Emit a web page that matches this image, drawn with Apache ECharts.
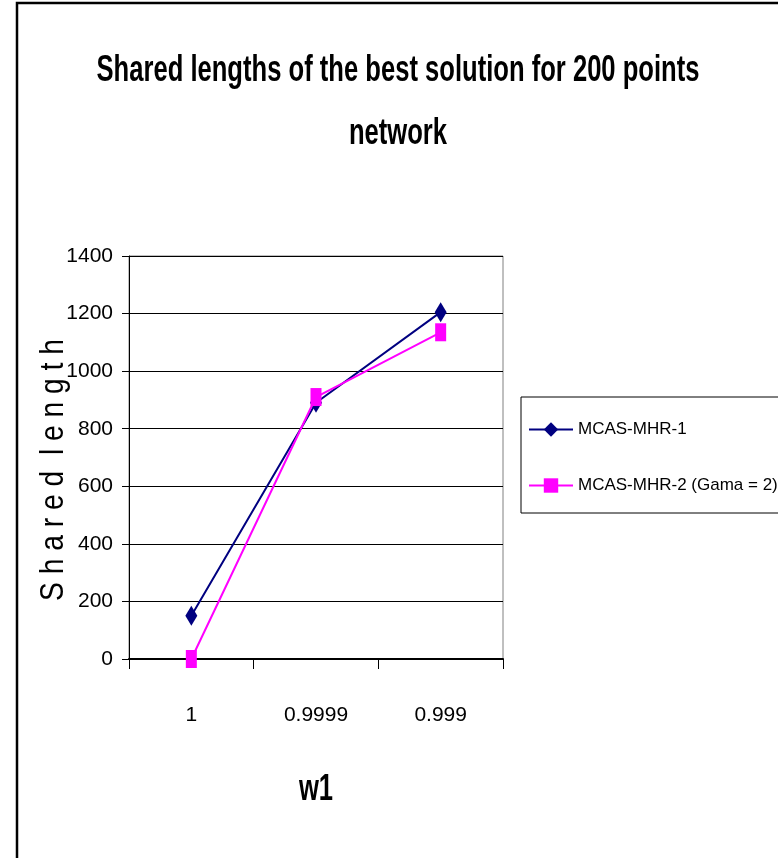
<!DOCTYPE html>
<html><head><meta charset="utf-8">
<script src="https://cdn.jsdelivr.net/npm/echarts@6/dist/echarts.min.js"></script>
<style>html,body{margin:0;padding:0;background:#fff}#c{width:778px;height:858px}</style>
</head><body><div id="c"></div>
<script>
const categories = ['1', '0.9999', '0.999'];
const mhr1 = [150, 890, 1205];
const mhr2 = [0, 910, 1135];
const seriesNames = ['MCAS-MHR-1', 'MCAS-MHR-2 (Gama = 2)'];
const titleLines = ['Shared lengths of the best solution for 200 points', 'network'];
const yName = 'S h a r e d  l e n g t h';
const xName = 'w1';
const FAM = "'Liberation Sans', Arial, sans-serif";

// horizontal squeeze factor of the reference's condensed lettering
const mctx = document.createElement('canvas').getContext('2d');
function measure(text, size, weight) {
  mctx.font = (weight || 'normal') + ' ' + size + 'px ' + FAM;
  return mctx.measureText(text).width;
}
const titleSize = 37;
const squeeze = 603 / measure(titleLines[0], titleSize, 'bold');
const ySize = 33;
const ySqueeze = 262 / measure(yName, ySize, 'normal');

function sText(text, x, y, size, weight, sx, rot) {
  return {
    type: 'text', x: x, y: y, rotation: rot || 0, scaleX: sx, scaleY: 1, z: 50,
    style: { text: text, font: weight + ' ' + size + 'px ' + FAM, fill: '#000',
             align: 'center', verticalAlign: 'middle' }
  };
}

const chart = echarts.init(document.getElementById('c'));
chart.setOption({
  backgroundColor: '#fff',
  animation: false,
  graphic: [
    { type: 'rect', x: 17, y: 3, shape: { x: 0, y: 0, width: 800, height: 900 },
      style: { fill: 'none', stroke: '#000', lineWidth: 2.5 }, z: 100 },
    sText(titleLines[0], 398, 71, titleSize, 'bold', squeeze),
    sText(titleLines[1], 398, 134, titleSize, 'bold', squeeze),
    sText(yName, 54, 470, ySize, 'normal', ySqueeze, Math.PI / 2),
    sText(xName, 316, 790, titleSize, 'bold', squeeze)
  ],
  legend: {
    orient: 'vertical', left: 521, top: 397,
    padding: [24, 12, 19, 7], itemGap: 39, itemWidth: 44, itemHeight: 18,
    borderColor: '#000', borderWidth: 1,
    textStyle: { fontFamily: FAM, fontSize: 17, color: '#000' },
    data: seriesNames
  },
  grid: { left: 129, right: 275, top: 256, bottom: 199, show: true, borderColor: '#808080', borderWidth: 1 },
  xAxis: {
    type: 'category', data: categories, boundaryGap: true,
    axisLine: { lineStyle: { color: '#000', width: 2 } },
    axisTick: { show: true, length: 10, interval: 0, lineStyle: { color: '#000' } },
    axisLabel: { margin: 46, fontFamily: FAM, fontSize: 21, color: '#000' },
    splitLine: { show: false }
  },
  yAxis: {
    type: 'value', min: 0, max: 1400, interval: 200,
    axisLine: { show: true, lineStyle: { color: '#000', width: 1 } },
    axisTick: { show: true, length: 7, lineStyle: { color: '#000' } },
    axisLabel: { margin: 16, fontFamily: FAM, fontSize: 21, color: '#000',
                 formatter: function (v) { return String(v); } },
    splitLine: { lineStyle: { color: '#000', width: 1 } }
  },
  series: [
    { name: seriesNames[0], type: 'line', data: mhr1, symbol: 'diamond', symbolSize: [12, 20],
      itemStyle: { color: '#000080' }, lineStyle: { color: '#000080', width: 2 }, z: 3 },
    { name: seriesNames[1], type: 'line', data: mhr2, symbol: 'rect', symbolSize: [11, 18],
      itemStyle: { color: '#ff00ff' }, lineStyle: { color: '#ff00ff', width: 2 }, z: 4 }
  ]
});
</script></body></html>
